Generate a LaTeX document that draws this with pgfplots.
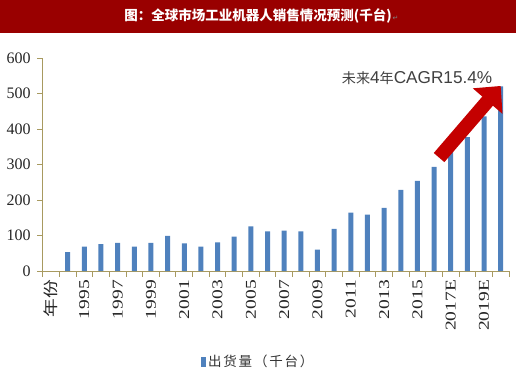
\documentclass[border=0pt]{standalone}
\usepackage{pgfplots}
\pgfplotsset{compat=1.18}
\usepackage{pgfplotstable}
\usetikzlibrary{arrows.meta}
\usepackage{fontspec}
\setmainfont{Liberation Serif}
\setsansfont{Liberation Sans}
\newfontfamily\cjk{Noto Sans CJK SC}
\newfontfamily\cjks{Noto Sans CJK SC}[Scale=0.82]
\newfontfamily\djv{DejaVu Sans}
\definecolor{barblue}{HTML}{4F81BD}
\definecolor{axcol}{HTML}{A89A60}
\definecolor{titlered}{HTML}{990000}
\definecolor{arrowred}{HTML}{C40000}
\newcommand{\xl}[1]{\scalebox{1.3}[1]{#1}}
\newcommand{\lsp}{\kern1.8bp}

\pgfplotstableread{
x y
1 53
2 69
3 76
4 79
5 69
6 79
7 99
8 78
9 69
10 81
11 97
12 126
13 112
14 114
15 112
16 60
17 119
18 165
19 159
20 178
21 229
22 254
23 294
24 345
25 378
26 436
27 521
}\shipments

\begin{document}
\begin{tikzpicture}
\path[use as bounding box] (0,0) rectangle (520bp,376bp);
\fill[titlered] (0,343bp) rectangle (516bp,376bp);
\node[text=white, font=\cjk\bfseries\fontsize{13.5bp}{14bp}\selectfont] at (258bp,360.5bp) {图：全球市场工业机器人销售情况预测(千台)};
\node[text=gray, font=\djv\fontsize{7bp}{7bp}\selectfont, inner sep=0pt] at (395.5bp,358bp) {↵};

\begin{axis}[
 at={(42.7bp,105bp)}, anchor=south west, scale only axis,
 width=466.3bp, height=212.7bp,
 xmin=-0.5, xmax=27.5, ymin=0, ymax=600, enlargelimits=false,
 axis x line=bottom, axis y line=left,
 axis line style={-, draw=axcol, line width=0.9bp},
 tick style={draw=axcol, line width=0.9bp}, tick align=outside, major tick length=5.5bp,
 xtick={-0.5,0.5,...,27.5},
 xticklabels={\scalebox{1.25}[1]{\cjk\fontsize{15bp}{15bp}\selectfont 年份},{},\xl{1995},{},\xl{1997},{},\xl{1999},{},\xl{2001},{},\xl{2003},{},\xl{2005},{},\xl{2007},{},\xl{2009},{},\xl{2011},{},\xl{2013},{},\xl{2015},{},\xl{2017E},{},\xl{2019E},{},{}},
 xticklabel style={xshift=8.33bp, rotate=90, anchor=east, font=\fontsize{15bp}{15bp}\selectfont, text=black!85},
 ytick={0,100,...,600},
 yticklabel style={xshift=-3bp, font=\fontsize{16bp}{16bp}\selectfont, text=black!85},
 /pgf/number format/assume math mode=true,
 clip=false,
 legend style={at={(0.333,-0.4264)}, anchor=west, draw=none, fill=none,
   font=\cjk\fontsize{13.5bp}{14bp}\selectfont, text=black!80},
]
\addplot[ybar, bar width=5bp, fill=barblue, draw=none,
  legend image code/.code={\fill[barblue] (0bp,-5bp) rectangle (5bp,5bp);}]
  table[x=x,y=y]{\shipments};
\addlegendentry{出\lsp 货\lsp 量\lsp （\lsp 千\lsp 台\lsp ）}
\draw[arrowred, line width=14bp, -{Triangle[length=20bp,width=38bp]}] (axis cs:23.3,320) -- (axis cs:27.0,522);
\end{axis}
\node[anchor=west, text=black!75, font=\sffamily\fontsize{17.2bp}{18bp}\selectfont, inner sep=0pt] at (341.7bp,298bp) {{\cjks 未来}4{\cjks 年}CAGR15.4\%};
\end{tikzpicture}
\end{document}
